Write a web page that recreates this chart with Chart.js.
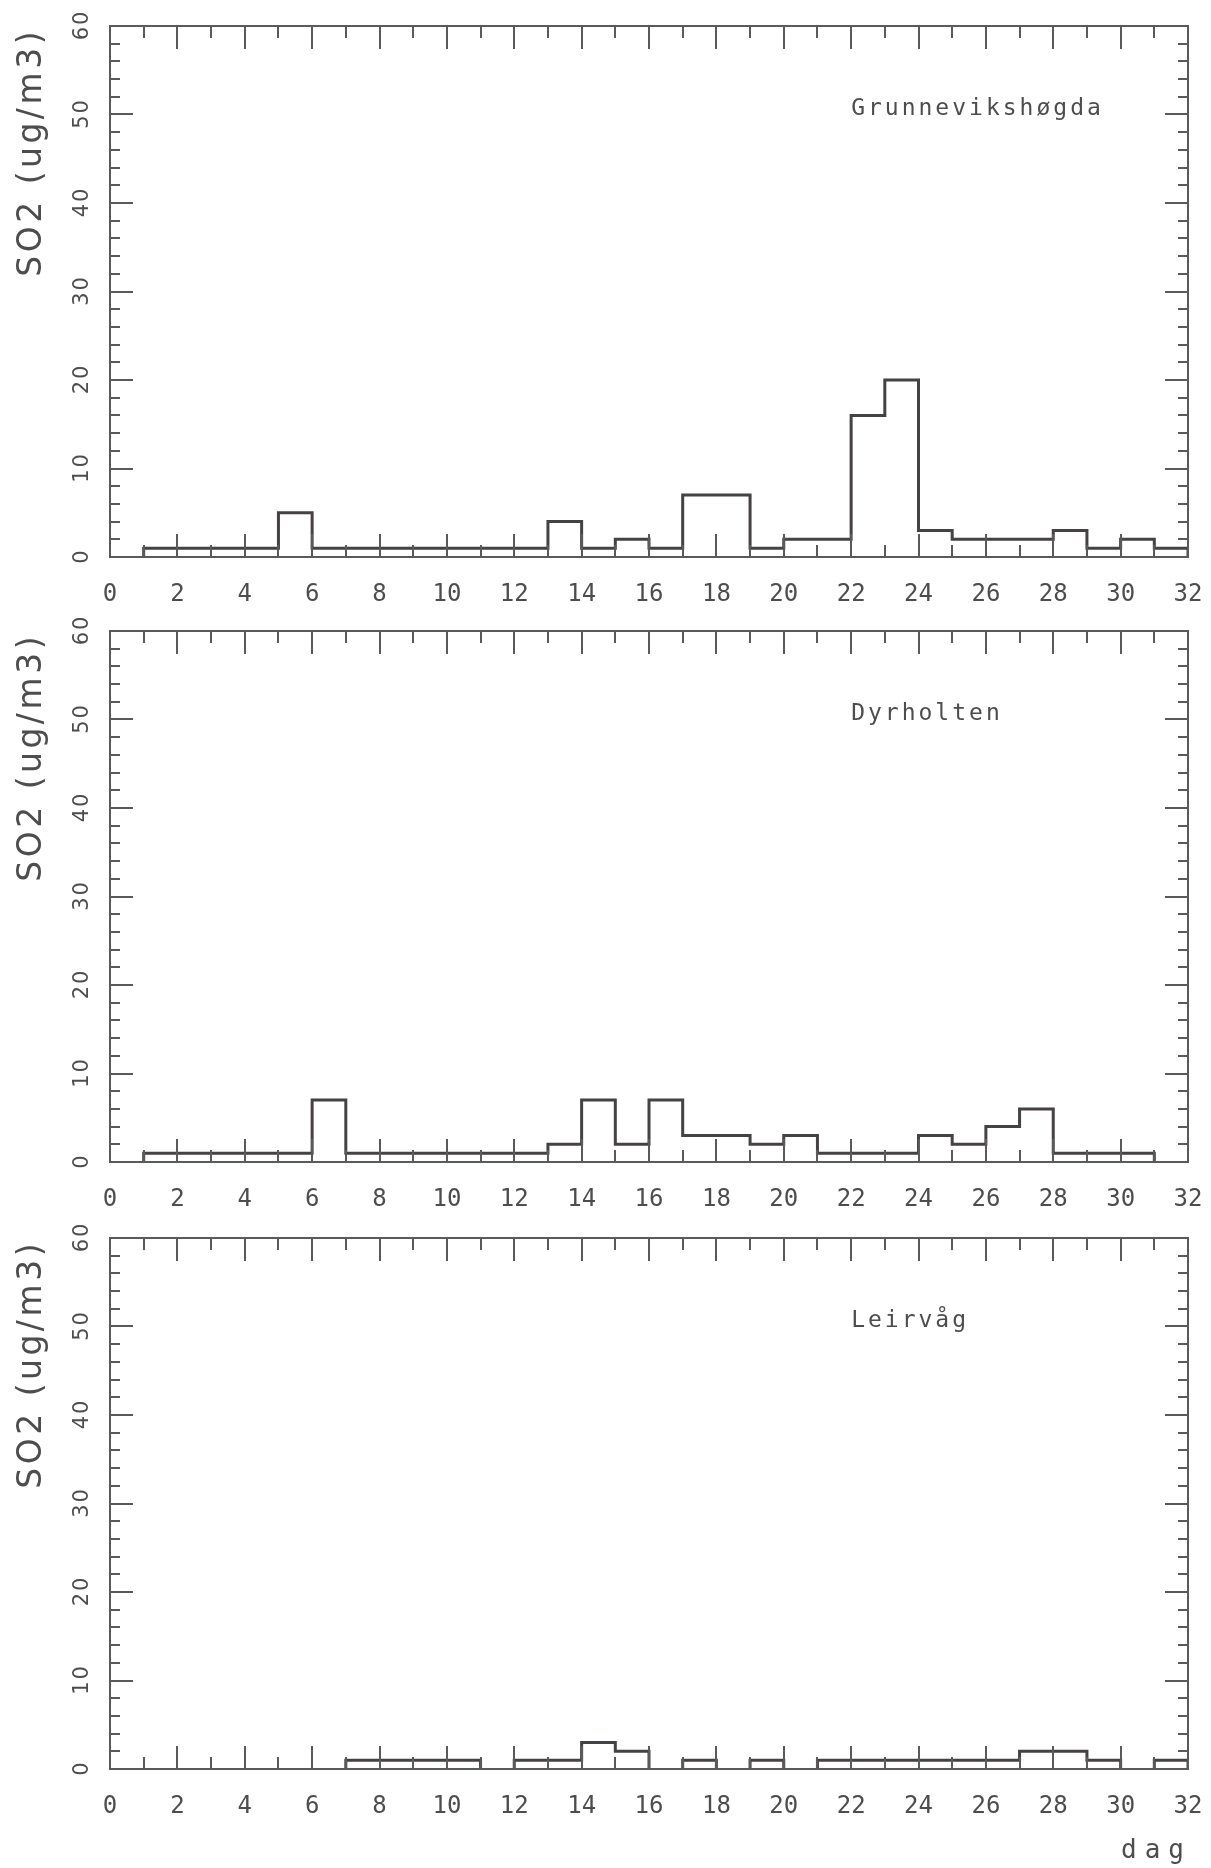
<!DOCTYPE html>
<html>
<head>
<meta charset="utf-8">
<title>SO2 døgnmiddel</title>
<script src="https://cdn.jsdelivr.net/npm/chart.js@4.4.1/dist/chart.umd.min.js"></script>
<style>
  html, body { margin: 0; padding: 0; background: #fff; }
  #wrap { position: relative; width: 1211px; height: 1868px; overflow: hidden; background: #fff; }
  #wrap canvas { position: absolute; left: 0; }
</style>
</head>
<body>
<div id="wrap">
  <canvas id="c1" width="1211" height="640" style="top:0px"></canvas>
  <canvas id="c2" width="1211" height="640" style="top:605px"></canvas>
  <canvas id="c3" width="1211" height="656" style="top:1212px"></canvas>
</div>
<script>
// dag 1..31, døgnmiddel SO2 (ug/m3), null = mangler
const days = [1, 2, 3, 4, 5, 6, 7, 8, 9, 10, 11, 12, 13, 14, 15, 16,
  17, 18, 19, 20, 21, 22, 23, 24, 25, 26, 27, 28, 29, 30, 31];
const grunnevik = [1, 1, 1, 1, 5, 1, 1, 1, 1, 1, 1, 1, 4, 1, 2, 1,
  7, 7, 1, 2, 2, 16, 20, 3, 2, 2, 2, 3, 1, 2, 1];
const dyrholten = [1, 1, 1, 1, 1, 7, 1, 1, 1, 1, 1, 1, 2, 7, 2, 7,
  3, 3, 2, 3, 1, 1, 1, 3, 2, 4, 6, 1, 1, 1, null];
const leirvag = [null, null, null, null, null, null, 1, 1, 1, 1, null, 1, 1, 3, 2, null,
  1, null, 1, null, 1, 1, 1, 1, 1, 1, 2, 2, 1, null, 1];
const stations = ['Grunnevikshøgda', 'Dyrholten', 'Leirvåg'];
const xTickLabels = [0, 2, 4, 6, 8, 10, 12, 14, 16, 18, 20, 22, 24, 26, 28, 30, 32];
const yTickLabels = [0, 10, 20, 30, 40, 50, 60];

const lineColor = '#454144';
const axisColor = '#5a5a5a';
const textColor = '#4d4d4d';

// histogram outline: each day holds its value until the next day,
// drop to zero where a neighbouring day is missing
function stepPoints(values) {
  const pts = [];
  for (let i = 0; i < days.length; i++) {
    const v = values[i];
    if (v === null) continue;
    const d = days[i];
    const prev = i > 0 ? values[i - 1] : null;
    const next = i < days.length - 1 ? values[i + 1] : null;
    if (prev === null) {
      if (pts.length) pts.push({x: d, y: null});
      pts.push({x: d, y: 0});
    }
    pts.push({x: d, y: v});
    if (next === null) {
      pts.push({x: d + 1, y: v});
      pts.push({x: d + 1, y: 0});
    }
  }
  return pts;
}

const framePlugin = {
  id: 'frame',
  afterDraw(chart, args, opts) {
    const {ctx, chartArea: a} = chart;
    const x = chart.scales.x, y = chart.scales.y;
    ctx.save();

    // ramme + innvendige tick-merker
    ctx.strokeStyle = axisColor;
    ctx.lineWidth = 2;
    ctx.strokeRect(a.left, a.top, a.right - a.left, a.bottom - a.top);
    ctx.beginPath();
    for (let v = x.min + 1; v < x.max; v++) {
      const px = Math.round(x.getPixelForValue(v));
      const len = xTickLabels.includes(v) ? 23 : 12;
      ctx.moveTo(px, a.bottom); ctx.lineTo(px, a.bottom - len);
      ctx.moveTo(px, a.top); ctx.lineTo(px, a.top + len);
    }
    for (let v = y.min + 2; v < y.max; v += 2) {
      const py = Math.round(y.getPixelForValue(v));
      const len = yTickLabels.includes(v) ? 23 : 10;
      ctx.moveTo(a.left, py); ctx.lineTo(a.left + len, py);
      ctx.moveTo(a.right, py); ctx.lineTo(a.right - len, py);
    }
    ctx.stroke();

    ctx.fillStyle = textColor;

    // y-aksen tall, rotert
    ctx.font = '21px "DejaVu Sans"';
    ctx.letterSpacing = '2px';
    ctx.textAlign = 'center';
    ctx.textBaseline = 'middle';
    yTickLabels.forEach(v => {
      ctx.save();
      ctx.translate(a.left - 27, y.getPixelForValue(v));
      ctx.rotate(-Math.PI / 2);
      ctx.fillText(String(v), 1, 0);
      ctx.restore();
    });

    // y-akse tittel
    ctx.save();
    ctx.font = '33px "DejaVu Sans"';
    ctx.letterSpacing = '3.5px';
    ctx.textAlign = 'right';
    ctx.textBaseline = 'middle';
    ctx.translate(32, a.top + 2);
    ctx.rotate(-Math.PI / 2);
    ctx.fillText('SO2 (ug/m3)', 0, 0);
    ctx.restore();

    // stasjonsnavn
    ctx.font = '23px "DejaVu Sans Mono"';
    ctx.letterSpacing = '3px';
    ctx.textAlign = 'left';
    ctx.textBaseline = 'alphabetic';
    ctx.fillText(opts.station, x.getPixelForValue(22), y.getPixelForValue(50));

    if (opts.xTitle) {
      ctx.font = '26px "DejaVu Sans Mono"';
      ctx.letterSpacing = '8px';
      ctx.textAlign = 'right';
      ctx.fillText(opts.xTitle, a.right + 4, a.bottom + 89);
    }
    ctx.restore();
  }
};

function makeChart(id, values, station, xTitle) {
  const canvas = document.getElementById(id);
  return new Chart(canvas, {
    type: 'line',
    data: {
      datasets: [{
        label: station,
        data: stepPoints(values),
        stepped: true,
        borderColor: lineColor,
        borderWidth: 3,
        pointRadius: 0,
        pointHoverRadius: 0,
        fill: false,
        spanGaps: false
      }]
    },
    options: {
      responsive: false,
      animation: false,
      devicePixelRatio: 1,
      events: [],
      layout: { padding: { top: 26, right: 23, bottom: 0, left: 0 } },
      plugins: {
        legend: { display: false },
        tooltip: { enabled: false },
        frame: { station: station, xTitle: xTitle }
      },
      scales: {
        x: {
          type: 'linear',
          min: xTickLabels[0],
          max: xTickLabels[xTickLabels.length - 1],
          grid: { display: false, drawTicks: false },
          border: { display: false },
          ticks: {
            stepSize: 2,
            autoSkip: false,
            maxRotation: 0,
            padding: 23,
            color: textColor,
            font: { family: 'DejaVu Sans Mono', size: 24 }
          },
          afterFit(s) {
            s.height = canvas.height - 557;
            s.paddingLeft = 0;
            s.paddingRight = 0;
          }
        },
        y: {
          min: yTickLabels[0],
          max: yTickLabels[yTickLabels.length - 1],
          grid: { display: false, drawTicks: false },
          border: { display: false },
          ticks: { display: false, stepSize: 10 },
          afterFit(s) {
            s.width = 110;
            s.paddingTop = 0;
            s.paddingBottom = 0;
          }
        }
      }
    },
    plugins: [framePlugin]
  });
}

makeChart('c1', grunnevik, stations[0], null);
makeChart('c2', dyrholten, stations[1], null);
makeChart('c3', leirvag, stations[2], 'dag');
</script>
</body>
</html>
